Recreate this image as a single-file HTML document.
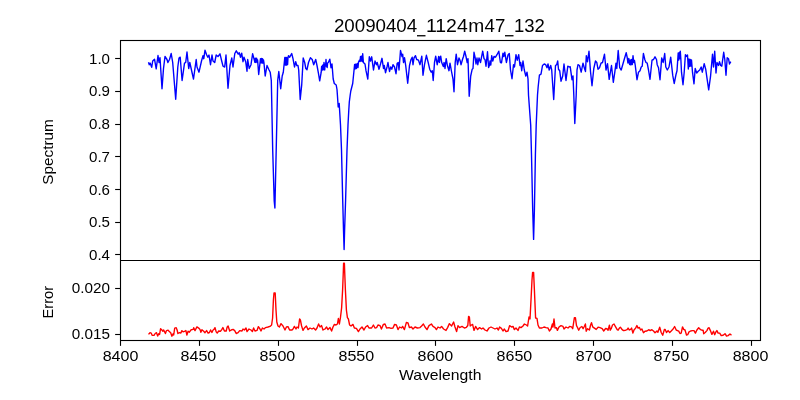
<!DOCTYPE html>
<html><head><meta charset="utf-8"><title>spectrum</title>
<style>
html,body{margin:0;padding:0;background:#fff;}
body{width:800px;height:400px;overflow:hidden;font-family:"Liberation Sans",sans-serif;}
svg{display:block;will-change:transform;}
text{filter:grayscale(1);}
</style></head>
<body>
<svg width="800" height="400" viewBox="0 0 800 400">
<rect width="800" height="400" fill="#fff"/>
<polyline points="148.5,62.2 149.3,64.7 150.2,63.2 151.7,67.3 152.7,61.0 154.5,59.2 156.2,68.8 158.0,55.5 159.0,62.5 160.0,57.7 162.0,88.7 163.5,68.5 165.0,56.5 167.0,59.5 167.9,62.5 169.5,59.5 171.2,53.5 172.7,62.5 175.7,99.2 177.8,67.0 179.0,58.0 180.2,57.2 182.1,80.5 184.5,63.2 185.7,62.5 187.0,52.0 188.7,68.5 189.8,62.5 193.5,79.0 196.2,59.5 197.0,67.0 199.0,72.2 201.5,61.0 203.0,55.7 203.8,58.7 205.0,50.2 206.7,55.0 207.8,57.2 209.0,55.0 210.5,64.7 212.0,55.0 213.0,61.0 214.7,62.5 216.2,55.0 218.0,56.5 220.0,53.8 221.7,61.0 223.0,66.2 224.7,67.0 226.0,55.0 228.0,88.3 230.0,65.5 231.8,58.0 233.0,67.0 234.8,53.5 236.3,50.8 238.2,54.2 239.3,52.7 240.5,57.2 241.7,53.2 243.0,61.7 244.0,57.2 245.7,61.7 247.0,71.2 247.7,59.5 249.2,68.5 251.0,64.7 252.6,53.8 254.2,59.5 254.9,62.3 255.4,58.2 256.0,62.5 256.6,58.2 257.2,62.0 257.6,60.0 258.7,74.5 260.5,58.7 261.0,62.8 261.5,58.5 262.0,63.0 262.5,58.7 263.0,63.0 263.5,60.0 264.0,63.2 265.2,76.0 267.0,65.5 268.7,69.2 270.2,72.2 271.3,80.5 271.6,95.0 272.7,150.0 274.2,201.0 274.9,208.0 275.3,190.0 276.2,150.0 277.4,95.0 277.7,80.5 278.8,71.5 280.7,88.7 282.2,76.0 283.3,72.2 284.8,57.5 285.2,65.0 285.6,57.5 286.0,65.0 286.4,57.5 286.8,65.0 287.2,58.0 287.6,64.5 288.0,57.5 288.5,55.7 289.7,57.2 291.7,53.5 293.0,58.7 294.5,67.0 295.7,61.7 296.8,65.5 298.0,65.5 298.7,70.0 300.2,99.5 301.7,85.0 303.2,58.0 304.7,62.5 305.8,68.5 307.0,69.7 308.5,62.5 310.4,57.7 312.2,59.5 313.7,64.7 315.7,59.5 317.0,65.5 318.5,73.7 319.7,80.8 321.2,72.2 321.6,66.5 322.0,70.5 322.5,65.5 323.0,65.0 323.4,69.8 324.0,62.5 324.7,70.0 325.2,64.0 325.6,66.0 326.0,59.5 326.5,66.0 327.2,67.5 327.6,63.0 328.3,62.5 329.8,59.2 331.0,67.7 332.0,64.0 333.2,79.0 334.3,83.5 336.2,85.0 337.0,89.5 337.4,95.0 338.2,107.0 339.2,103.5 340.5,125.0 341.5,150.0 342.7,200.0 343.5,230.0 344.1,249.5 344.6,230.0 345.6,200.0 347.0,150.0 348.0,125.0 348.8,110.0 349.3,102.0 350.2,95.0 350.8,91.0 352.7,83.5 354.2,68.5 354.6,64.5 355.1,69.0 355.6,64.5 356.0,64.0 356.5,68.5 357.0,64.5 357.5,63.5 358.0,67.5 358.5,62.0 359.0,61.0 359.5,60.2 360.0,61.5 360.5,56.5 361.0,61.0 361.4,57.0 361.8,56.0 362.3,61.5 362.7,53.8 363.4,62.5 365.0,64.0 366.0,70.7 367.8,79.0 369.3,56.8 370.5,61.0 371.7,56.8 373.5,70.0 375.0,61.0 376.5,64.7 377.2,62.5 379.0,69.2 380.5,64.0 382.0,58.3 383.5,68.5 384.3,65.5 385.5,72.7 387.0,67.0 388.0,62.5 389.5,71.5 390.7,67.0 391.8,69.2 393.0,64.7 394.5,67.0 396.0,73.7 397.2,63.2 398.2,62.5 399.0,70.0 400.5,50.5 402.0,56.5 402.7,54.2 403.5,62.5 404.5,57.7 405.7,65.5 407.7,83.2 409.5,65.5 411.0,59.5 412.2,57.2 413.0,64.7 414.0,58.0 415.5,55.7 416.7,59.5 418.5,60.2 420.0,64.7 421.8,56.2 423.0,75.2 424.5,64.7 426.4,55.3 428.2,62.5 429.7,69.2 431.2,72.2 432.3,70.7 433.2,80.5 434.5,62.5 435.7,56.2 437.2,64.7 438.7,56.5 439.1,61.7 439.5,62.5 440.1,57.1 440.7,56.2 441.7,62.5 443.2,66.2 443.6,66.5 444.0,62.5 444.5,63.3 445.0,68.5 446.2,58.7 447.4,65.5 449.0,70.7 450.0,63.2 451.5,71.5 453.0,79.0 454.0,91.7 455.2,62.5 456.2,54.2 457.5,64.7 459.0,58.0 460.0,60.2 461.0,64.7 462.7,58.7 463.5,56.5 464.7,51.2 466.0,56.5 467.2,62.5 468.0,58.7 469.2,96.2 470.7,76.0 472.2,69.2 473.0,68.5 474.0,52.3 475.2,58.0 476.0,64.0 477.0,58.0 477.8,64.7 479.0,58.0 480.5,62.5 482.7,51.2 484.0,58.7 485.0,59.5 486.0,66.2 487.5,51.7 488.6,67.5 489.5,65.0 490.0,61.0 490.8,65.0 491.7,55.7 492.8,61.0 494.0,56.5 495.5,57.2 497.0,54.7 498.8,51.2 500.4,62.5 501.5,62.8 503.0,53.2 503.8,56.5 504.8,52.3 506.4,62.5 508.0,55.0 509.3,53.5 510.5,70.0 512.0,78.7 513.5,64.7 514.5,67.0 516.0,54.7 517.2,60.2 518.7,54.7 520.0,65.5 520.7,62.5 521.7,70.7 523.0,61.0 524.3,70.0 525.8,76.0 527.0,72.2 528.0,79.0 528.5,95.0 530.7,125.0 531.5,155.0 532.7,210.0 533.6,239.4 534.4,210.0 535.4,155.0 536.2,125.0 537.5,95.0 538.2,86.5 539.4,75.2 541.0,74.2 542.5,65.5 544.2,64.0 545.7,64.7 547.0,67.7 548.0,64.0 549.2,70.0 550.7,65.5 551.7,70.0 553.7,99.5 555.5,65.5 556.7,64.7 557.7,61.0 558.5,69.2 559.7,70.7 561.0,81.2 562.7,76.0 564.0,64.0 566.0,80.5 567.8,66.2 569.3,67.0 570.2,66.7 572.0,79.7 573.0,76.0 573.8,95.0 574.8,123.5 576.2,95.0 577.0,70.0 578.0,64.7 579.5,65.5 581.2,72.2 583.0,63.2 584.5,68.5 585.5,71.5 586.3,55.7 587.5,61.7 589.0,51.2 590.5,71.5 592.0,85.7 593.8,68.5 595.5,61.0 596.8,62.5 598.0,69.2 599.5,67.7 601.0,63.2 602.5,62.5 604.5,54.2 606.0,70.0 607.5,63.7 609.2,79.3 611.5,65.5 613.3,82.3 614.8,72.2 616.0,63.2 616.8,68.5 618.2,50.5 619.7,67.7 621.2,70.0 622.7,64.7 624.2,59.5 626.2,52.7 627.2,57.5 627.9,63.0 628.8,58.5 629.6,64.5 630.3,60.0 630.9,65.0 631.6,59.5 632.3,64.5 633.0,55.7 633.8,62.5 634.5,60.5 635.2,65.0 637.0,79.7 638.5,72.2 640.0,70.7 641.2,67.0 642.2,66.2 643.4,53.5 644.8,59.5 646.0,62.5 647.2,63.2 648.5,70.0 650.0,79.3 652.0,60.2 653.5,59.5 655.0,56.8 656.5,59.5 657.2,64.7 658.5,67.7 660.0,79.7 661.7,58.0 663.2,62.5 664.7,53.5 665.8,67.0 667.3,70.0 669.0,67.0 670.7,57.2 672.7,75.2 674.2,83.5 676.0,74.5 677.0,70.7 678.2,53.0 678.8,60.0 679.4,52.5 679.9,58.5 680.3,51.2 680.9,60.0 681.5,72.2 683.0,84.7 684.2,72.2 685.4,54.7 686.5,56.5 687.5,55.0 688.3,69.0 689.0,59.0 689.7,66.5 690.3,59.5 690.9,66.0 691.5,60.0 692.5,72.2 694.0,83.8 695.2,68.5 696.7,73.0 698.2,71.2 699.7,70.0 701.2,67.0 702.3,72.2 704.2,63.7 705.7,69.2 707.2,79.7 708.7,89.8 710.5,76.7 712.5,54.2 713.5,67.0 714.7,51.2 716.0,73.0 717.0,62.5 718.5,65.5 719.5,61.7 720.7,65.5 721.8,66.2 723.7,52.3 724.8,59.5 726.0,75.2 727.2,57.7 728.5,58.7 729.5,64.0 730.8,61.7" fill="none" stroke="#0000ff" stroke-width="1.39" stroke-linejoin="round"/>
<polyline points="148.5,334.4 150.0,332.7 151.2,333.1 152.1,335.2 154.0,335.4 155.2,333.5 156.5,332.7 157.7,336.0 158.7,333.7 159.6,334.4 160.6,328.7 161.9,330.0 162.9,331.2 163.7,330.0 165.4,333.5 166.5,330.6 168.1,330.2 169.6,331.9 170.6,332.5 171.9,336.2 173.1,333.7 173.7,335.0 174.7,328.1 176.2,327.7 177.1,330.0 177.9,333.5 179.4,332.7 180.9,333.1 181.9,330.6 183.1,331.9 185.0,331.2 185.9,330.6 186.9,335.0 188.1,331.2 189.4,332.2 191.2,329.7 193.1,329.4 193.7,327.7 195.0,330.6 196.9,326.9 198.7,328.1 200.0,329.4 200.9,332.2 201.9,329.7 203.7,331.2 205.0,332.7 206.6,330.6 208.1,333.1 209.4,332.5 210.6,330.0 211.9,332.5 213.1,330.0 214.0,329.4 215.0,327.7 216.2,331.9 217.2,333.1 218.7,331.0 220.6,331.2 221.9,329.4 222.9,327.5 224.4,331.0 226.2,331.0 227.2,326.9 228.1,326.0 229.7,331.0 231.2,330.0 233.1,329.4 234.7,330.6 236.2,333.5 238.1,332.7 239.7,330.6 242.0,331.0 243.0,329.0 244.4,330.0 246.0,328.0 247.0,331.6 249.0,329.0 251.0,330.0 252.4,331.6 253.6,328.0 255.0,331.0 257.0,330.4 258.4,326.6 260.0,329.0 261.0,331.0 262.4,328.0 264.0,329.0 265.6,327.6 268.0,327.0 270.0,326.4 271.6,325.0 272.6,318.0 273.4,300.0 274.0,293.0 275.2,293.0 276.0,310.0 276.8,322.0 278.0,326.0 279.4,327.0 281.0,323.6 283.0,326.0 285.0,330.0 286.4,327.0 288.0,326.6 289.6,330.0 292.0,330.0 293.0,329.0 294.4,326.4 296.0,329.0 297.0,327.0 298.4,328.0 299.6,319.0 300.4,320.0 301.6,326.0 303.0,330.4 304.4,328.0 306.4,326.0 308.0,329.6 310.0,328.0 312.0,329.0 313.6,328.0 315.6,330.0 317.0,328.0 318.6,324.0 320.0,327.0 321.6,325.6 323.0,330.0 325.0,329.0 326.6,327.0 328.0,329.6 330.0,327.6 331.6,331.0 333.0,327.0 334.4,324.4 336.0,325.0 337.4,324.0 338.4,318.4 339.4,324.0 340.4,318.0 341.6,308.0 342.6,290.0 343.3,272.0 343.6,263.3 344.4,263.3 344.7,272.0 345.4,290.0 346.4,310.0 347.4,317.6 348.4,319.0 349.6,325.0 351.0,326.0 353.0,324.4 354.4,328.0 356.4,328.4 358.4,331.6 360.0,329.0 362.0,327.0 364.0,330.0 365.6,327.0 367.6,325.6 369.0,328.0 371.6,328.0 373.4,325.0 375.0,328.0 376.6,327.6 378.0,325.0 380.0,325.6 381.4,329.0 383.4,324.4 385.0,324.0 386.6,328.0 389.0,327.6 391.0,328.4 393.0,328.0 394.6,324.4 396.4,325.0 398.0,329.6 399.6,327.0 401.6,328.0 402.6,326.4 404.4,329.6 406.4,322.4 408.0,323.0 409.4,327.6 411.4,327.0 413.0,329.0 415.0,327.0 417.4,328.0 420.0,327.6 421.6,326.0 423.4,324.0 425.0,327.0 427.0,329.6 429.0,325.6 431.4,324.0 433.0,326.4 435.0,327.6 436.4,329.6 438.0,327.0 440.0,328.0 441.6,326.4 443.6,329.0 446.0,330.4 447.6,327.6 449.4,323.6 451.6,326.0 453.6,322.0 455.0,327.0 456.6,331.6 458.0,325.6 459.6,327.6 462.0,326.4 464.4,328.0 466.4,327.3 467.8,325.5 468.6,316.4 469.4,317.0 470.2,326.0 471.4,325.0 472.6,324.4 474.0,330.4 475.6,326.4 477.6,329.6 479.6,327.6 481.6,329.0 483.0,328.0 485.0,330.0 487.0,331.0 489.0,328.0 491.0,327.0 493.0,328.0 495.0,329.0 497.0,328.0 498.4,330.0 499.6,327.0 501.4,328.4 503.0,331.0 504.4,329.0 506.0,331.6 508.0,331.0 509.6,325.6 511.6,327.0 513.0,326.4 514.4,329.6 516.0,328.0 518.0,330.4 519.4,327.0 521.0,327.6 523.0,326.0 524.4,324.0 526.4,325.0 527.6,326.0 529.0,317.0 530.0,319.0 531.0,300.0 532.0,280.0 532.6,272.4 533.6,272.4 534.4,290.0 535.6,318.0 537.0,318.4 538.0,325.0 539.4,328.0 542.0,328.0 544.0,327.0 546.0,327.6 548.0,328.0 549.4,331.0 551.0,329.0 552.4,324.0 553.0,327.0 554.0,319.0 555.0,328.0 556.4,327.6 557.4,330.4 559.0,327.0 561.0,325.6 563.0,326.4 564.0,329.0 566.0,327.0 568.0,328.0 569.6,326.4 571.5,326.9 572.7,328.7 574.4,317.7 575.4,317.7 576.5,325.6 577.5,327.5 578.7,330.2 580.2,327.5 581.9,326.5 583.1,328.7 584.4,326.2 585.4,324.0 586.2,331.2 587.5,328.7 588.5,329.4 589.4,330.0 590.6,325.0 591.5,322.7 592.7,326.9 594.4,328.1 596.2,329.4 598.1,327.2 600.0,327.7 602.2,328.7 603.7,331.0 605.6,328.5 606.9,328.7 608.1,330.2 609.4,325.2 610.2,330.2 611.2,328.7 612.5,325.0 614.0,324.0 615.6,326.9 617.2,329.7 618.1,330.2 619.4,328.1 620.4,327.2 621.9,329.4 623.5,330.6 625.6,330.2 627.1,329.7 628.1,328.1 629.4,330.0 630.6,329.4 631.6,328.1 632.9,333.1 634.0,330.0 635.6,328.1 636.9,325.6 638.1,328.1 639.4,327.5 640.6,330.0 641.9,329.0 643.5,332.7 645.0,331.2 646.9,331.0 648.7,329.7 650.2,330.6 651.9,329.7 653.5,331.0 655.0,332.7 656.9,331.0 657.9,332.2 658.7,330.0 659.7,327.2 661.2,332.5 662.7,335.2 664.4,329.4 665.2,329.4 666.5,332.5 668.1,330.6 669.7,332.5 671.2,331.0 673.1,329.0 674.6,326.5 676.2,330.0 677.5,330.6 678.7,331.2 680.0,333.5 681.2,333.1 682.5,326.9 683.7,329.4 685.0,330.0 686.5,335.0 687.7,334.7 689.0,331.9 690.6,331.0 692.5,330.6 694.0,330.6 695.4,333.1 696.9,330.0 698.7,327.7 700.6,329.7 701.9,330.2 703.1,330.2 703.7,333.7 705.2,332.5 706.9,330.6 708.1,328.1 709.1,327.7 710.4,330.6 711.9,334.4 713.5,331.2 714.7,334.7 715.9,331.9 716.9,330.6 718.1,333.1 719.7,333.1 721.2,335.6 723.1,335.2 725.0,333.7 726.5,336.0 728.1,335.6 730.0,334.0 731.5,335.2" fill="none" stroke="#ff0000" stroke-width="1.39" stroke-linejoin="round"/>
<g stroke="#000" stroke-width="1.11" fill="none" stroke-linecap="butt">
<rect x="120.5" y="40.5" width="640.0" height="300.0"/>
<line x1="120.5" y1="260.5" x2="760.5" y2="260.5"/>
<line x1="120.5" y1="340.5" x2="120.5" y2="345.86"/>
<line x1="199.5" y1="340.5" x2="199.5" y2="345.86"/>
<line x1="278.5" y1="340.5" x2="278.5" y2="345.86"/>
<line x1="357.5" y1="340.5" x2="357.5" y2="345.86"/>
<line x1="435.5" y1="340.5" x2="435.5" y2="345.86"/>
<line x1="514.5" y1="340.5" x2="514.5" y2="345.86"/>
<line x1="593.5" y1="340.5" x2="593.5" y2="345.86"/>
<line x1="672.5" y1="340.5" x2="672.5" y2="345.86"/>
<line x1="751.5" y1="340.5" x2="751.5" y2="345.86"/>
<line x1="115.14" y1="58.5" x2="120.5" y2="58.5"/>
<line x1="115.14" y1="91.5" x2="120.5" y2="91.5"/>
<line x1="115.14" y1="124.5" x2="120.5" y2="124.5"/>
<line x1="115.14" y1="156.5" x2="120.5" y2="156.5"/>
<line x1="115.14" y1="189.5" x2="120.5" y2="189.5"/>
<line x1="115.14" y1="222.5" x2="120.5" y2="222.5"/>
<line x1="115.14" y1="254.5" x2="120.5" y2="254.5"/>
<line x1="115.14" y1="288.5" x2="120.5" y2="288.5"/>
<line x1="115.14" y1="334.5" x2="120.5" y2="334.5"/>
</g>
<g font-family="Liberation Sans, sans-serif" font-size="14.1" fill="#000">
<text x="120.55" y="361" text-anchor="middle" textLength="35.7" lengthAdjust="spacingAndGlyphs">8400</text>
<text x="198.45" y="361" text-anchor="middle" textLength="35.7" lengthAdjust="spacingAndGlyphs">8450</text>
<text x="277.45" y="361" text-anchor="middle" textLength="35.7" lengthAdjust="spacingAndGlyphs">8500</text>
<text x="356.35" y="361" text-anchor="middle" textLength="35.7" lengthAdjust="spacingAndGlyphs">8550</text>
<text x="435.35" y="361" text-anchor="middle" textLength="35.7" lengthAdjust="spacingAndGlyphs">8600</text>
<text x="514.45" y="361" text-anchor="middle" textLength="35.7" lengthAdjust="spacingAndGlyphs">8650</text>
<text x="593.65" y="361" text-anchor="middle" textLength="35.7" lengthAdjust="spacingAndGlyphs">8700</text>
<text x="671.45" y="361" text-anchor="middle" textLength="35.7" lengthAdjust="spacingAndGlyphs">8750</text>
<text x="750.55" y="361" text-anchor="middle" textLength="35.7" lengthAdjust="spacingAndGlyphs">8800</text>
<text x="110.0" y="64" text-anchor="end" textLength="21.0" lengthAdjust="spacingAndGlyphs">1.0</text>
<text x="110.0" y="96" text-anchor="end" textLength="21.0" lengthAdjust="spacingAndGlyphs">0.9</text>
<text x="110.0" y="129" text-anchor="end" textLength="21.0" lengthAdjust="spacingAndGlyphs">0.8</text>
<text x="110.0" y="162" text-anchor="end" textLength="21.0" lengthAdjust="spacingAndGlyphs">0.7</text>
<text x="110.0" y="195" text-anchor="end" textLength="21.0" lengthAdjust="spacingAndGlyphs">0.6</text>
<text x="110.0" y="227" text-anchor="end" textLength="21.0" lengthAdjust="spacingAndGlyphs">0.5</text>
<text x="110.0" y="260" text-anchor="end" textLength="21.0" lengthAdjust="spacingAndGlyphs">0.4</text>
<text x="110.0" y="293" text-anchor="end" textLength="38.2" lengthAdjust="spacingAndGlyphs">0.020</text>
<text x="110.0" y="339" text-anchor="end" textLength="38.2" lengthAdjust="spacingAndGlyphs">0.015</text>
<text x="440.2" y="379.9" text-anchor="middle" textLength="82.6" lengthAdjust="spacingAndGlyphs">Wavelength</text>
<text transform="translate(53.0,151.9) rotate(-90)" text-anchor="middle" textLength="65.5" lengthAdjust="spacingAndGlyphs">Spectrum</text>
<text transform="translate(52.6,302.2) rotate(-90)" text-anchor="middle" textLength="32.5" lengthAdjust="spacingAndGlyphs">Error</text>
</g>
<g font-family="Liberation Sans, sans-serif" font-size="18.3" fill="#000">
<text x="333.9" y="31.8" textLength="83.3" lengthAdjust="spacingAndGlyphs">20090404</text>
<text x="425.9" y="31.8" textLength="41.9" lengthAdjust="spacingAndGlyphs">1124</text>
<text x="468.2" y="31.8" textLength="16.0" lengthAdjust="spacingAndGlyphs">m</text>
<text x="484.6" y="31.8" textLength="20.8" lengthAdjust="spacingAndGlyphs">47</text>
<text x="514.0" y="31.8" textLength="30.9" lengthAdjust="spacingAndGlyphs">132</text>
</g>
<rect x="417" y="35.1" width="8.5" height="1.3" fill="#000"/>
<rect x="505" y="35.1" width="8.5" height="1.3" fill="#000"/>
</svg>
</body></html>
